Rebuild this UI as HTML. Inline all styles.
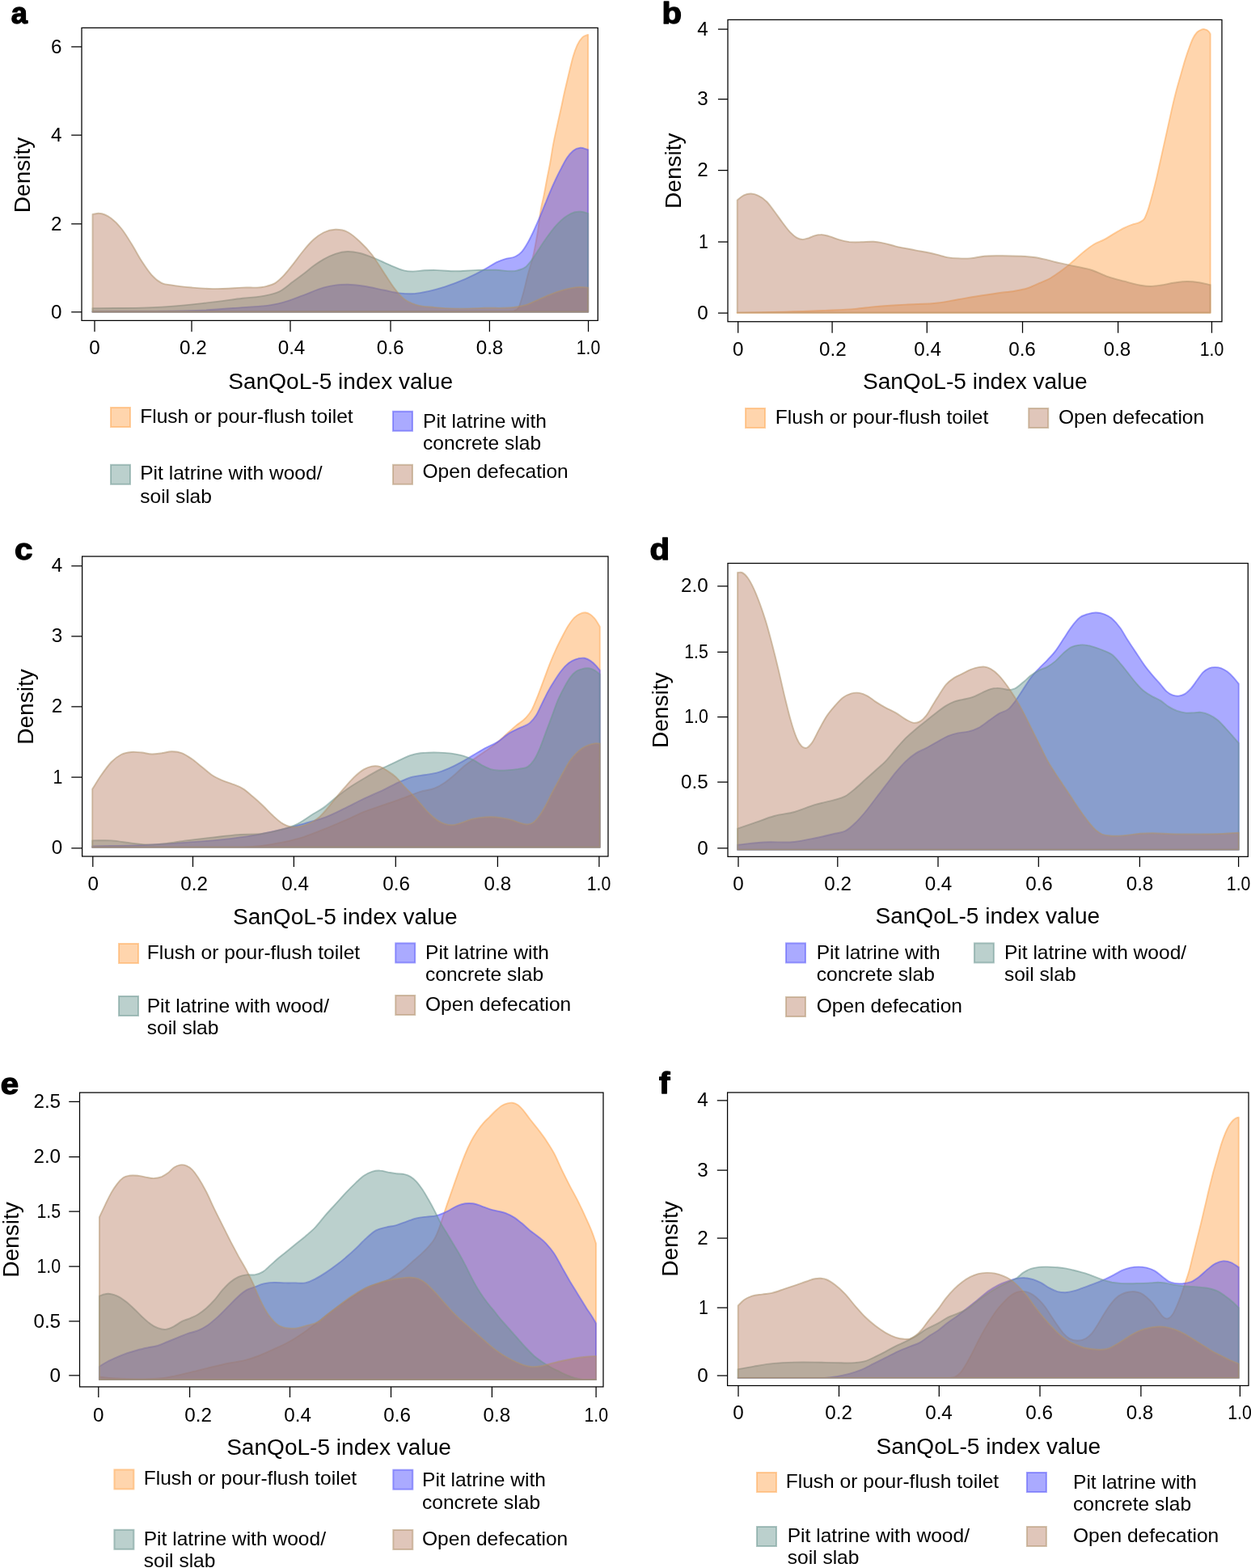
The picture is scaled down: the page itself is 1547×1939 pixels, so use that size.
<!DOCTYPE html>
<html lang="en"><head><meta charset="utf-8"><title>SanQoL-5 index value density by sanitation type</title>
<style>
html,body{margin:0;padding:0;background:#fff}
body{width:1547px;height:1939px;overflow:hidden}
svg{display:block}
text{font-family:"Liberation Sans",sans-serif;fill:#000}
.ax{stroke:#000;stroke-width:1.25;fill:none}
</style></head><body>
<svg width="1547" height="1939" viewBox="0 0 1547 1939">
<rect width="1547" height="1939" fill="#fff"/>
<g id="panel-a">
<path d="M114.5 385.7L114.5 385.1C209.7 385.1 305 385.1 400.2 385.1C466.8 385.1 533.5 385.7 600.1 385.1C611.8 385 623.5 385.7 635.2 384.6C637.2 383.3 639.3 384.2 641.4 380.1C643.1 376.8 644.7 370.8 646.4 365.1C648.5 357.9 650.6 348.1 652.7 340.1C655.2 330.4 657.7 324.5 660.2 312.5C661.8 304.6 663.5 296 665.2 285C666.3 277.5 667.5 267 668.6 260.1C669.9 252.3 671.2 248.5 672.5 242C673.8 235.6 675.1 228 676.4 221.3C677.6 214.7 678.9 209.1 680.2 201.9C681.5 194.8 682.8 185.7 684.1 178.7C685.8 169.3 687.6 162.1 689.3 154.1C691 146.1 692.7 138.8 694.5 130.8C695.7 124.9 697 118.5 698.3 112.7C700.1 105 701.8 97.9 703.5 90.8C705.2 83.7 707 75.9 708.7 70.1C710.4 64.3 712.1 59.6 713.8 55.9C716 51.1 718.2 48.3 720.3 46.2C722.6 43.8 724.9 44 727.2 42.9L727.2 385.7Z" fill="rgb(255,155,60)" fill-opacity="0.42" stroke="rgb(255,170,85)" stroke-opacity="0.55" stroke-width="1.9" stroke-linejoin="round"/>
<path d="M114.5 385.7L114.5 385.1C159.7 384.7 204.9 385.7 250.1 383.8C266.8 382.9 283.5 381.4 300.1 380.1C311.8 379.1 323.5 379.2 335.2 377.1C340.2 376.2 345.2 375.2 350.2 373.8C358.5 371.6 366.8 368.1 375.2 365.1C383.5 362 391.9 357.8 400.2 355.6C405.1 354.2 410.1 353.2 415 352.6C420 351.9 425 351.8 430 351.8C436.7 351.9 443.4 352.9 450 353.8C458.4 355 466.7 357.2 475 358.8C481.7 360.1 488.4 361.9 495.1 362.6C500.9 363.2 506.7 363.5 512.6 363.1C518.4 362.7 524.2 361.4 530.1 360.1C536.8 358.6 543.4 356.7 550.1 354.6C558.4 351.9 566.8 348.7 575.1 345.1C583.5 341.4 591.8 337.2 600.1 332.6C605.1 329.8 610.1 326.1 615.1 323.8C618.5 322.3 621.8 321.1 625.1 320.1C629.3 318.7 633.5 319.4 637.7 317C640.2 315.6 642.7 314.1 645.2 311.3C647.7 308.5 650.2 304.4 652.7 300C655.2 295.7 657.7 290.4 660.2 285C663.4 278.1 666.6 270.6 669.9 262.7C671.6 258.5 673.3 254 675.1 249.8C677.2 244.5 679.4 239.2 681.5 234.3C683.7 229.3 685.8 224.6 688 220C690.1 215.5 692.3 211.2 694.5 207.1C696.6 203 698.8 198.7 700.9 195.5C703.5 191.6 706.1 188.5 708.7 186.4C711.7 184 714.7 183.1 717.7 182.8C720.9 182.5 724.1 184.4 727.2 185.1L727.2 385.7Z" fill="rgb(53,53,255)" fill-opacity="0.42" stroke="rgb(85,85,250)" stroke-opacity="0.55" stroke-width="1.9" stroke-linejoin="round"/>
<path d="M114.5 385.7L114.5 381.3C143 380.8 171.5 381.4 200.1 379.6C216.7 378.5 233.4 376.9 250.1 375.1C266.8 373.3 283.5 370.9 300.1 368.8C310.1 367.6 320.1 367.5 330.1 365.1C335.2 363.9 340.2 363 345.2 360.6C351 357.7 356.8 352.3 362.7 348.1C366.8 345 371 342 375.2 338.8C379.3 335.6 383.5 331.9 387.7 328.8C391.9 325.8 396 322.9 400.2 320.6C405.1 317.8 410.1 315.4 415 313.8C420 312.2 425 311.2 430 311C435 310.9 440 311.9 445 313C450 314.2 455 316.1 460 318.1C465 320 470 322.4 475 324.6C479.2 326.4 483.4 328.4 487.6 330.1C491.7 331.7 495.9 333.7 500.1 334.6C503.4 335.3 506.7 335.5 510.1 335.6C515.1 335.7 520.1 334.6 525.1 334.3C530.1 334.1 535.1 334 540.1 334.1C547.6 334.2 555.1 335.3 562.6 335.3C570.9 335.4 579.3 334.3 587.6 334.1C596 333.8 604.3 333.8 612.6 333.8C621.8 333.8 631 337.1 640.2 334.3C643.5 333.3 646.8 332.9 650.2 330.1C652.7 327.9 655.2 324.6 657.7 321.3C660.2 318 662.7 313.8 665.2 310C668.5 305 671.8 299.7 675.2 295C679.3 289.2 683.5 283.4 687.7 278.8C691.9 274.2 696 270.3 700.2 267.5C703.5 265.3 706.9 263.4 710.2 262.5C713.1 261.7 716 261.5 719 261.8C721.7 262 724.5 263.1 727.2 263.8L727.2 385.7Z" fill="rgb(93,143,136)" fill-opacity="0.42" stroke="rgb(110,152,146)" stroke-opacity="0.55" stroke-width="1.9" stroke-linejoin="round"/>
<path d="M114.5 385.7L114.5 265C117.2 264.6 119.8 263.6 122.5 263.8C127.5 264 132.5 266.3 137.5 270C141.7 273.1 145.9 277.3 150 282.5C154.2 287.7 158.4 294.6 162.5 301.3C166.7 308 170.9 316.1 175 322.6C179.2 329 183.4 335.5 187.6 340.1C191.7 344.7 195.9 348 200.1 350.1C204.2 352.2 208.4 351.9 212.6 352.6C220.9 354 229.3 354.8 237.6 355.6C245.9 356.3 254.3 356.9 262.6 357.1C275.1 357.3 287.6 356.2 300.1 355.6C310.1 355.1 320.1 356.8 330.1 353.8C333.5 352.8 336.8 352.2 340.2 350.1C343.5 348 346.8 344.7 350.2 341.3C354.3 337.1 358.5 331.5 362.7 326.3C366.8 321.1 371 315 375.2 310C379.3 305 383.5 300 387.7 296.3C391.9 292.5 396 289.6 400.2 287.5C405.1 285.1 410.1 283.9 415 283.8C420 283.7 425 284.5 430 287C435 289.5 440 294.1 445 298.8C450 303.5 455 308.6 460 315C465 321.5 470 330.1 475 337.6C479.2 343.8 483.4 350.9 487.6 356.3C491.7 361.7 495.9 366.7 500.1 370.1C504.2 373.4 508.4 374.7 512.6 376.3C520.9 379.5 529.3 379.2 537.6 380.1C545.9 381 554.3 381.4 562.6 381.6C575.1 381.9 587.6 381.2 600.1 380.8C613.5 380.5 626.8 381.8 640.2 379.3C643.5 378.7 646.8 378.1 650.2 377.1C654.3 375.8 658.5 373.6 662.7 371.8C666.8 370 671 368.1 675.2 366.3C679.3 364.6 683.5 362.8 687.7 361.3C691.9 359.9 696 358.6 700.2 357.6C705.2 356.4 710.2 355.3 715.2 355.1C719.2 354.9 723.2 355.4 727.2 355.6L727.2 385.7Z" fill="rgb(181,119,91)" fill-opacity="0.42" stroke="rgb(176,148,110)" stroke-opacity="0.55" stroke-width="1.9" stroke-linejoin="round"/>
<rect class="ax" x="101" y="34.45" width="638.35" height="361.95"/>
<path class="ax" d="M88.2 57.95H101M88.2 167.2H101M88.2 276.9H101M88.2 385.9H101M117 396.4V410.3M237 396.4V410.3M359 396.4V410.3M483 396.4V410.3M605.4 396.4V410.3M727.55 396.4V410.3"/>
<text transform="translate(76.4 65.55) scale(1.01 1)" font-size="24.0" text-anchor="end">6</text>
<text transform="translate(76.4 174.8) scale(1.01 1)" font-size="24.0" text-anchor="end">4</text>
<text transform="translate(76.4 284.5) scale(1.01 1)" font-size="24.0" text-anchor="end">2</text>
<text transform="translate(76.4 393.5) scale(1.01 1)" font-size="24.0" text-anchor="end">0</text>
<text transform="translate(117 438.2) scale(1.01 1)" font-size="24.0" text-anchor="middle">0</text>
<text transform="translate(238.9 438.2) scale(1.01 1)" font-size="24.0" text-anchor="middle">0.2</text>
<text transform="translate(360.5 438.2) scale(1.01 1)" font-size="24.0" text-anchor="middle">0.4</text>
<text transform="translate(482.7 438.2) scale(1.01 1)" font-size="24.0" text-anchor="middle">0.6</text>
<text transform="translate(605.5 438.2) scale(1.01 1)" font-size="24.0" text-anchor="middle">0.8</text>
<text transform="translate(727.5 438.2) scale(0.8888 1)" font-size="24.0" text-anchor="middle">1.0</text>
<text transform="translate(37.1 216.4) rotate(-90) scale(1.04 1)" font-size="27.0" text-anchor="middle">Density</text>
<text transform="translate(421.2 481) scale(1.04 1)" font-size="27.0" text-anchor="middle">SanQoL-5 index value</text>
<text transform="translate(13.8 28.5) scale(0.98 1)" font-size="37.0" text-anchor="start" font-weight="bold" stroke="#000" stroke-width="1.3" stroke-linejoin="round">a</text>
<rect x="137" y="504" width="24" height="24" fill="rgb(255,155,60)" fill-opacity="0.42" stroke="rgb(255,170,85)" stroke-opacity="0.55" stroke-width="2"/>
<text transform="translate(173.2 522.7) scale(1.05 1)" font-size="23.4" text-anchor="start">Flush or pour-flush toilet</text>
<rect x="486" y="508.8" width="24" height="24" fill="rgb(53,53,255)" fill-opacity="0.42" stroke="rgb(85,85,250)" stroke-opacity="0.55" stroke-width="2"/>
<text transform="translate(523 528.6) scale(1.05 1)" font-size="23.4" text-anchor="start">Pit latrine with</text>
<text transform="translate(523 555.6) scale(1.05 1)" font-size="23.4" text-anchor="start">concrete slab</text>
<rect x="137" y="574.8" width="24" height="24" fill="rgb(93,143,136)" fill-opacity="0.42" stroke="rgb(110,152,146)" stroke-opacity="0.55" stroke-width="2"/>
<text transform="translate(173.2 593.2) scale(1.05 1)" font-size="23.4" text-anchor="start">Pit latrine with wood/</text>
<text transform="translate(173.2 621.5) scale(1.05 1)" font-size="23.4" text-anchor="start">soil slab</text>
<rect x="486" y="574.8" width="24" height="24" fill="rgb(181,119,91)" fill-opacity="0.42" stroke="rgb(176,148,110)" stroke-opacity="0.55" stroke-width="2"/>
<text transform="translate(522.5 591) scale(1.05 1)" font-size="23.4" text-anchor="start">Open defecation</text>
</g>
<g id="panel-b">
<path d="M911.7 386.8L911.7 386.6C931.1 386.3 950.6 386.1 970 385.6C986.7 385.2 1003.4 384.6 1020.1 383.9C1032.6 383.3 1045.1 383 1057.6 381.9C1065.9 381.1 1074.3 379.9 1082.6 379.1C1095.1 378 1107.6 377.4 1120.1 376.6C1133.4 375.8 1146.7 376.1 1160 374.5C1168.3 373.4 1176.7 371.6 1185 370.2C1193.4 368.8 1201.7 367.3 1210 366C1218.4 364.6 1226.7 363.4 1235 362.2C1241.7 361.3 1248.4 360.9 1255.1 359.7C1260.1 358.8 1265.1 358.1 1270.1 356.5C1275.1 354.9 1280.1 352.4 1285.1 350.2C1290.1 348 1295.1 346.2 1300.1 343.2C1303.4 341.2 1306.8 338.8 1310.1 336.5C1313.4 334.1 1316.8 331.7 1320.1 328.9C1323.4 326.2 1326.8 323.1 1330.1 320.2C1333.4 317.3 1336.8 314.2 1340.1 311.4C1344.3 308 1348.5 304.7 1352.6 302.2C1356.8 299.7 1361 298.6 1365.1 296.4C1369.3 294.2 1373.5 291.3 1377.6 288.9C1381.8 286.5 1386 283.9 1390.1 281.9C1393.5 280.3 1396.8 278.9 1400.2 277.7C1403.5 276.4 1406.8 276.7 1410.2 274.4C1411.8 273.3 1413.5 273 1415.2 270.2C1416.8 267.4 1418.5 262.7 1420.2 257.7C1421.8 252.7 1423.5 246.4 1425.2 240.1C1426.8 233.9 1428.5 227.2 1430.2 220.1C1431.8 213 1433.5 205.1 1435.2 197.6C1436.8 190.1 1438.5 182.6 1440.2 175.1C1441.8 167.6 1443.5 160.1 1445.2 152.6C1446.9 145.1 1448.5 137.2 1450.2 130.1C1451.9 123 1453.5 116.3 1455.2 110.1C1456.9 103.8 1458.5 98.4 1460.2 92.5C1461.9 86.7 1463.5 80.5 1465.2 75C1466.9 69.6 1468.5 64.6 1470.2 60C1471.9 55.4 1473.5 50.9 1475.2 47.5C1476.9 44.2 1478.5 41.8 1480.2 40C1481.9 38.2 1483.5 37.4 1485.2 36.8C1486.9 36.1 1488.5 35.8 1490.2 36.3C1491.9 36.7 1493.5 37.1 1495.2 39.5C1495.7 40.2 1496.2 41.2 1496.7 42L1496.7 386.8Z" fill="rgb(255,155,60)" fill-opacity="0.42" stroke="rgb(255,170,85)" stroke-opacity="0.55" stroke-width="1.9" stroke-linejoin="round"/>
<path d="M911.7 386.8L911.7 247.5C914.5 245.4 917.2 242.6 920 241.3C922.9 239.9 925.9 239.4 928.8 239.5C931.7 239.6 934.6 240.4 937.5 241.8C940.9 243.3 944.2 245.5 947.5 248.8C950.9 252 954.2 256.9 957.5 261.3C960.9 265.7 964.2 270.7 967.5 275C970.9 279.4 974.2 284.2 977.6 287.6C980.1 290.1 982.6 292.4 985.1 293.8C987.6 295.2 990.1 296 992.6 296.1C995.1 296.1 997.6 295.1 1000.1 294.3C1002.6 293.5 1005.1 292 1007.6 291.3C1010.1 290.6 1012.6 290.1 1015.1 290.1C1018.4 290 1021.7 291.2 1025.1 292.1C1029.3 293.2 1033.4 295.1 1037.6 296.3C1041.8 297.5 1045.9 298.5 1050.1 299.1C1055.1 299.7 1060.1 299.4 1065.1 299.3C1070.1 299.3 1075.1 298.5 1080.1 298.8C1083.5 299 1086.8 299.5 1090.1 300.1C1096 301.1 1101.8 303.2 1107.6 304.6C1116 306.5 1124.3 307.9 1132.7 309.6C1141 311.2 1149.3 312.6 1157.7 314.6C1162.6 315.8 1167.6 317.6 1172.5 318.4C1176.7 319.1 1180.8 319.3 1185 319.4C1190 319.7 1195 319.8 1200 319.4C1205.9 319 1211.7 317.2 1217.5 316.7C1223.4 316.1 1229.2 316.2 1235 316.2C1243.4 316.1 1251.7 316.3 1260.1 316.7C1266.7 317 1273.4 317.2 1280.1 318.2C1285.1 319 1290.1 320.3 1295.1 321.4C1300.1 322.6 1305.1 324 1310.1 325.2C1316.8 326.8 1323.4 328 1330.1 329.4C1336.8 330.9 1343.5 331.8 1350.1 334C1356.8 336.1 1363.5 339.9 1370.1 342.2C1376.8 344.5 1383.5 346 1390.1 347.7C1396.8 349.5 1403.5 351.7 1410.2 352.7C1414.3 353.4 1418.5 354 1422.7 354C1426.8 354 1431 353.3 1435.2 352.7C1441 351.9 1446.9 350.3 1452.7 349.5C1457.7 348.8 1462.7 348 1467.7 348C1472.7 347.9 1477.7 348.5 1482.7 349.2C1487.4 349.9 1492 351.2 1496.7 352.2L1496.7 386.8Z" fill="rgb(181,119,91)" fill-opacity="0.42" stroke="rgb(176,148,110)" stroke-opacity="0.55" stroke-width="1.9" stroke-linejoin="round"/>
<rect class="ax" x="900" y="24.45" width="611" height="373.3"/>
<path class="ax" d="M887.95 36H900M887.95 122.6H900M887.95 210.5H900M887.95 299.2H900M887.95 387.2H900M912.7 397.75V411.85M1029.1 397.75V411.85M1146.3 397.75V411.85M1264.5 397.75V411.85M1382.6 397.75V411.85M1498.5 397.75V411.85"/>
<text transform="translate(875.8 43.6) scale(1.01 1)" font-size="24.0" text-anchor="end">4</text>
<text transform="translate(875.8 130.2) scale(1.01 1)" font-size="24.0" text-anchor="end">3</text>
<text transform="translate(875.8 218.1) scale(1.01 1)" font-size="24.0" text-anchor="end">2</text>
<text transform="translate(875.8 306.8) scale(0.8888 1)" font-size="24.0" text-anchor="end">1</text>
<text transform="translate(875.8 394.8) scale(1.01 1)" font-size="24.0" text-anchor="end">0</text>
<text transform="translate(912.8 440.3) scale(1.01 1)" font-size="24.0" text-anchor="middle">0</text>
<text transform="translate(1029.8 440.3) scale(1.01 1)" font-size="24.0" text-anchor="middle">0.2</text>
<text transform="translate(1147.2 440.3) scale(1.01 1)" font-size="24.0" text-anchor="middle">0.4</text>
<text transform="translate(1264 440.3) scale(1.01 1)" font-size="24.0" text-anchor="middle">0.6</text>
<text transform="translate(1381.5 440.3) scale(1.01 1)" font-size="24.0" text-anchor="middle">0.8</text>
<text transform="translate(1498.5 440.3) scale(0.8888 1)" font-size="24.0" text-anchor="middle">1.0</text>
<text transform="translate(842.2 211.2) rotate(-90) scale(1.04 1)" font-size="27.0" text-anchor="middle">Density</text>
<text transform="translate(1205.8 481) scale(1.04 1)" font-size="27.0" text-anchor="middle">SanQoL-5 index value</text>
<text transform="translate(818.4 28.9) scale(1.0878 1)" font-size="37.0" text-anchor="start" font-weight="bold" stroke="#000" stroke-width="1.3" stroke-linejoin="round">b</text>
<rect x="922" y="505" width="24" height="24" fill="rgb(255,155,60)" fill-opacity="0.42" stroke="rgb(255,170,85)" stroke-opacity="0.55" stroke-width="2"/>
<text transform="translate(958.8 523.8) scale(1.05 1)" font-size="23.4" text-anchor="start">Flush or pour-flush toilet</text>
<rect x="1272.2" y="505" width="24" height="24" fill="rgb(181,119,91)" fill-opacity="0.42" stroke="rgb(176,148,110)" stroke-opacity="0.55" stroke-width="2"/>
<text transform="translate(1308.9 523.8) scale(1.05 1)" font-size="23.4" text-anchor="start">Open defecation</text>
</g>
<g id="panel-c">
<path d="M114.2 1047.7L114.2 1047.6C176.2 1047.6 238.2 1047.7 300.1 1047.6C308.5 1047 316.8 1046.6 325.1 1045.6C333.5 1044.6 341.8 1043.1 350.2 1041.4C358.5 1039.6 366.8 1037.7 375.2 1035.1C383.5 1032.5 391.7 1029 400 1025.7C408.3 1022.4 416.7 1018.8 425 1015.2C433.4 1011.6 441.7 1007.3 450 1003.9C458.4 1000.6 466.7 998.1 475 995.2C483.4 992.3 491.7 989.5 500.1 986.4C506.7 984 513.4 980.9 520.1 978.9C525.9 977.1 531.8 977.2 537.6 974.7C541.8 972.9 545.9 970.5 550.1 967.7C554.3 964.8 558.4 961.2 562.6 957.7C566.8 954.1 570.9 949.7 575.1 946.4C579.3 943.1 583.5 940.6 587.6 937.6C591.8 934.7 596 931.8 600.1 928.9C604.3 926 608.5 923.5 612.6 920.1C616.8 916.8 621 912.6 625.1 908.9C629.3 905.1 633.5 901.2 637.7 897.6C641.8 894.1 646 892.3 650.2 887.6C652.7 884.8 655.2 882.2 657.7 877.6C660.2 873 662.7 866.3 665.2 860.1C667.7 853.8 670.2 846.7 672.7 840.1C675.2 833.4 677.7 826.3 680.2 820.1C682.7 813.8 685.2 808 687.7 802.6C690.2 797.1 692.7 792.3 695.2 787.5C697.7 782.7 700.2 777.7 702.7 773.8C705.2 769.8 707.7 766.3 710.2 763.8C712.7 761.3 715.2 759.8 717.7 758.8C719.8 757.9 721.9 757.3 724 757.5C726 757.7 728.1 758.6 730.2 760C732.3 761.5 734.4 763.5 736.5 766.3C738.2 768.7 740 772.1 741.8 775L741.8 1047.7Z" fill="rgb(255,155,60)" fill-opacity="0.42" stroke="rgb(255,170,85)" stroke-opacity="0.55" stroke-width="1.9" stroke-linejoin="round"/>
<path d="M114.2 1047.7L114.2 1046.4C134.5 1045.9 154.8 1046 175 1045.1C191.7 1044.4 208.4 1043.3 225.1 1042.1C241.8 1040.9 258.4 1039.9 275.1 1038.1C287.6 1036.7 300.1 1035.3 312.6 1033.1C321 1031.7 329.3 1029.9 337.7 1028.1C346 1026.3 354.3 1024.3 362.7 1022.1C371 1019.9 379.3 1017.5 387.7 1015.1C391.8 1013.9 395.9 1012.9 400 1011.4C408.3 1008.5 416.7 1004.1 425 1000.2C433.4 996.2 441.7 991.6 450 987.7C458.4 983.7 466.7 980.4 475 976.4C481.7 973.2 488.4 969.3 495.1 966.4C500.1 964.2 505.1 962 510.1 960.7C515.1 959.3 520.1 959 525.1 958.2C530.1 957.3 535.1 957 540.1 955.7C545.1 954.3 550.1 952.3 555.1 950.1C560.1 948 565.1 945.4 570.1 942.6C575.1 939.9 580.1 936.8 585.1 933.9C590.1 931 595.1 927.8 600.1 925.1C605.1 922.4 610.1 920.8 615.1 917.6C620.1 914.5 625.1 909.4 630.1 906.4C634.3 903.8 638.5 902.2 642.7 900.1C646.8 898 651 897.7 655.2 893.9C657.7 891.6 660.2 889.1 662.7 885.1C665.2 881.1 667.7 875.1 670.2 870.1C672.7 865.1 675.2 859.7 677.7 855.1C680.2 850.5 682.7 846.5 685.2 842.6C687.7 838.6 690.2 834.7 692.7 831.3C695.2 828 697.7 824.9 700.2 822.6C702.7 820.2 705.2 818.4 707.7 817.1C710.2 815.7 712.7 814.9 715.2 814.3C717.7 813.8 720.2 813.4 722.7 813.8C725.2 814.3 727.7 815.4 730.2 817.1C732.3 818.5 734.4 820.4 736.5 822.6C738.2 824.4 740 826.7 741.8 828.8L741.8 1047.7Z" fill="rgb(53,53,255)" fill-opacity="0.42" stroke="rgb(85,85,250)" stroke-opacity="0.55" stroke-width="1.9" stroke-linejoin="round"/>
<path d="M114.2 1047.7L114.2 1039.4C122 1039.4 129.7 1038.9 137.5 1039.4C145.9 1039.9 154.2 1041.7 162.5 1042.6C169.2 1043.3 175.9 1044.2 182.6 1044.4C190.1 1044.5 197.6 1043.9 205.1 1043.1C213.4 1042.3 221.7 1040.5 230.1 1039.4C240.9 1037.9 251.8 1036.8 262.6 1035.6C273.4 1034.4 284.3 1032.9 295.1 1032.1C305.1 1031.4 315.1 1032.3 325.1 1030.8C333.5 1029.6 341.8 1027.6 350.2 1025.1C355.2 1023.6 360.2 1022.3 365.2 1020.1C372.7 1016.8 380.2 1010.9 387.7 1006.3C391.8 1003.8 395.9 1001.8 400 998.9C405 995.4 410 990.4 415 986.4C420 982.5 425 978.6 430 975.2C436.7 970.5 443.4 966.6 450 962.7C456.7 958.7 463.4 954.8 470 951.4C475.9 948.4 481.7 945.9 487.6 943.1C491.7 941.2 495.9 938.9 500.1 937.1C504.2 935.4 508.4 933.7 512.6 932.6C516.7 931.6 520.9 931.3 525.1 930.9C530.9 930.4 536.8 930.5 542.6 930.6C547.6 930.8 552.6 931 557.6 931.6C562.6 932.3 567.6 933.1 572.6 934.6C576.8 935.9 581 937.6 585.1 939.6C589.3 941.7 593.5 945.1 597.6 947.1C601 948.8 604.3 950.5 607.6 951.4C611 952.3 614.3 952.5 617.6 952.7C621.8 952.9 626 952.5 630.1 952.1C634.3 951.8 638.5 951.5 642.7 950.6C646 950 649.3 950.5 652.7 948.1C655.2 946.4 657.7 944 660.2 940.1C662.7 936.3 665.2 931 667.7 925.1C670.2 919.3 672.7 911.8 675.2 905.1C677.7 898.4 680.2 891.8 682.7 885.1C685.2 878.4 687.7 870.9 690.2 865.1C692.7 859.3 695.2 854.7 697.7 850.1C700.2 845.5 702.7 840.9 705.2 837.6C707.7 834.2 710.2 831.8 712.7 830.1C715.2 828.3 717.7 827.7 720.2 827.1C722.7 826.4 725.2 826 727.7 826.3C730.2 826.6 732.7 827.4 735.2 828.8C737.4 830.1 739.6 832.2 741.8 833.8L741.8 1047.7Z" fill="rgb(93,143,136)" fill-opacity="0.42" stroke="rgb(110,152,146)" stroke-opacity="0.55" stroke-width="1.9" stroke-linejoin="round"/>
<path d="M114.2 1047.7L114.2 975.8C117.8 970.1 121.4 964 125 958.8C129.2 952.8 133.4 946.8 137.5 942.5C141.7 938.2 145.9 935.1 150 933C154.2 930.9 158.4 930.4 162.5 930C166.7 929.6 170.9 930.1 175 930.5C179.2 930.9 183.4 932.4 187.6 932.5C191.7 932.7 195.9 931.8 200.1 931.3C204.2 930.7 208.4 929.3 212.6 929.3C216.7 929.3 220.9 929.7 225.1 931.3C229.3 932.9 233.4 935.9 237.6 938.8C241.8 941.7 245.9 945.5 250.1 948.8C254.3 952.1 258.4 956.1 262.6 958.8C266.8 961.5 270.9 963.3 275.1 965.1C279.3 966.8 283.5 967.9 287.6 969.6C291.8 971.2 296 972.5 300.1 975.1C304.3 977.6 308.5 981.5 312.6 985.1C316.8 988.6 321 992.4 325.1 996.3C329.3 1000.3 333.5 1005.1 337.7 1008.8C341.8 1012.6 346 1016.5 350.2 1018.8C353.5 1020.7 356.8 1022.1 360.2 1022.6C363.5 1023.1 366.8 1022.7 370.2 1022.1C374.3 1021.4 378.5 1020.1 382.7 1018.1C386.9 1016.1 391 1013.9 395.2 1010.1C396.8 1008.6 398.4 1006.9 400 1005.2C404.2 1000.7 408.3 995.2 412.5 990.2C416.7 985.2 420.8 980 425 975.2C429.2 970.4 433.4 965.4 437.5 961.4C441.7 957.4 445.9 953.8 450 951.4C453.4 949.5 456.7 948.2 460 947.6C463.4 947.1 466.7 947.1 470 948.1C473.4 949.2 476.7 951.7 480.1 953.9C483.4 956.1 486.7 958.3 490.1 961.4C493.4 964.5 496.7 969.1 500.1 972.7C503.4 976.2 506.7 979.1 510.1 982.7C513.4 986.2 516.7 990.2 520.1 993.9C523.4 997.7 526.7 1001.8 530.1 1005.2C533.4 1008.5 536.8 1011.6 540.1 1013.9C543.4 1016.2 546.8 1017.9 550.1 1018.9C553.4 1020 556.8 1020.4 560.1 1020.2C563.4 1020 566.8 1018.7 570.1 1017.7C574.3 1016.4 578.4 1014.3 582.6 1013.2C586.8 1012.1 591 1011.4 595.1 1010.9C599.3 1010.4 603.5 1010.1 607.6 1010.2C611.8 1010.3 616 1010.8 620.1 1011.4C624.3 1012.1 628.5 1012.8 632.7 1013.9C636.8 1015.1 641 1017.2 645.2 1018.2C647.7 1018.8 650.2 1019.7 652.7 1019.4C655.2 1019.2 657.7 1018.4 660.2 1016.4C662.7 1014.5 665.2 1011.2 667.7 1007.7C670.2 1004.1 672.7 999.8 675.2 995.2C677.7 990.6 680.2 985 682.7 980.2C685.2 975.4 687.7 971 690.2 966.4C692.7 961.8 695.2 957 697.7 952.7C700.2 948.3 702.7 943.7 705.2 940.1C707.7 936.6 710.2 933.9 712.7 931.4C715.2 928.9 717.7 926.8 720.2 925.1C722.7 923.5 725.2 922.3 727.7 921.4C730.2 920.4 732.7 919.7 735.2 919.4C737.4 919.1 739.6 919.4 741.8 919.4L741.8 1047.7Z" fill="rgb(181,119,91)" fill-opacity="0.42" stroke="rgb(176,148,110)" stroke-opacity="0.55" stroke-width="1.9" stroke-linejoin="round"/>
<rect class="ax" x="101.6" y="688.05" width="650.4" height="370.95"/>
<path class="ax" d="M88.3 699.75H101.6M88.3 786.75H101.6M88.3 873.75H101.6M88.3 961.1H101.6M88.3 1048.8H101.6M114.8 1059V1071.9M238.5 1059V1071.9M363.4 1059V1071.9M489.3 1059V1071.9M615.4 1059V1071.9M740.9 1059V1071.9"/>
<text transform="translate(77.3 707.35) scale(1.01 1)" font-size="24.0" text-anchor="end">4</text>
<text transform="translate(77.3 794.35) scale(1.01 1)" font-size="24.0" text-anchor="end">3</text>
<text transform="translate(77.3 881.35) scale(1.01 1)" font-size="24.0" text-anchor="end">2</text>
<text transform="translate(77.3 968.7) scale(0.8888 1)" font-size="24.0" text-anchor="end">1</text>
<text transform="translate(77.3 1056.4) scale(1.01 1)" font-size="24.0" text-anchor="end">0</text>
<text transform="translate(115.2 1101.3) scale(1.01 1)" font-size="24.0" text-anchor="middle">0</text>
<text transform="translate(240.1 1101.3) scale(1.01 1)" font-size="24.0" text-anchor="middle">0.2</text>
<text transform="translate(365.2 1101.3) scale(1.01 1)" font-size="24.0" text-anchor="middle">0.4</text>
<text transform="translate(490.2 1101.3) scale(1.01 1)" font-size="24.0" text-anchor="middle">0.6</text>
<text transform="translate(615.4 1101.3) scale(1.01 1)" font-size="24.0" text-anchor="middle">0.8</text>
<text transform="translate(740.5 1101.3) scale(0.8888 1)" font-size="24.0" text-anchor="middle">1.0</text>
<text transform="translate(41 874) rotate(-90) scale(1.04 1)" font-size="27.0" text-anchor="middle">Density</text>
<text transform="translate(426.8 1143.4) scale(1.04 1)" font-size="27.0" text-anchor="middle">SanQoL-5 index value</text>
<text transform="translate(17.9 692.3) scale(1.0878 1)" font-size="37.0" text-anchor="start" font-weight="bold" stroke="#000" stroke-width="1.3" stroke-linejoin="round">c</text>
<rect x="147" y="1167" width="24" height="24" fill="rgb(255,155,60)" fill-opacity="0.42" stroke="rgb(255,170,85)" stroke-opacity="0.55" stroke-width="2"/>
<text transform="translate(181.7 1185.8) scale(1.05 1)" font-size="23.4" text-anchor="start">Flush or pour-flush toilet</text>
<rect x="489.2" y="1166.4" width="24" height="24" fill="rgb(53,53,255)" fill-opacity="0.42" stroke="rgb(85,85,250)" stroke-opacity="0.55" stroke-width="2"/>
<text transform="translate(526 1185.8) scale(1.05 1)" font-size="23.4" text-anchor="start">Pit latrine with</text>
<text transform="translate(526 1212.6) scale(1.05 1)" font-size="23.4" text-anchor="start">concrete slab</text>
<rect x="147" y="1232" width="24" height="24" fill="rgb(93,143,136)" fill-opacity="0.42" stroke="rgb(110,152,146)" stroke-opacity="0.55" stroke-width="2"/>
<text transform="translate(181.7 1251.6) scale(1.05 1)" font-size="23.4" text-anchor="start">Pit latrine with wood/</text>
<text transform="translate(181.7 1278.8) scale(1.05 1)" font-size="23.4" text-anchor="start">soil slab</text>
<rect x="489.2" y="1231" width="24" height="24" fill="rgb(181,119,91)" fill-opacity="0.42" stroke="rgb(176,148,110)" stroke-opacity="0.55" stroke-width="2"/>
<text transform="translate(526 1249.8) scale(1.05 1)" font-size="23.4" text-anchor="start">Open defecation</text>
</g>
<g id="panel-d">
<path d="M912.1 1050.8L912.1 1044.7C923.1 1043.6 934.1 1042.1 945 1041.5C957.5 1040.7 970 1042.4 982.6 1041C990.9 1040 999.2 1038.2 1007.6 1036.5C1015.9 1034.8 1024.3 1032.7 1032.6 1030.7C1036.8 1029.7 1040.9 1029.9 1045.1 1027.7C1049.3 1025.6 1053.4 1021.7 1057.6 1017.7C1061.8 1013.8 1065.9 1009 1070.1 1004C1074.3 998.9 1078.5 993.1 1082.6 987.7C1086.8 982.3 1091 976.9 1095.1 971.4C1099.3 966 1103.5 960.2 1107.6 955.2C1111.8 950.2 1116 945.4 1120.1 941.4C1124.3 937.5 1128.5 934.1 1132.7 931.4C1136.8 928.7 1141 927.4 1145.2 925.2C1149.3 922.9 1153.5 920.4 1157.7 918.1C1162.6 915.4 1167.6 912.2 1172.5 910.1C1176.7 908.4 1180.8 907.3 1185 906.4C1189.2 905.5 1193.4 905.7 1197.5 904.6C1201.7 903.6 1205.9 902.3 1210 900.1C1214.2 897.9 1218.4 894.3 1222.5 891.4C1226.7 888.5 1230.9 885.1 1235 882.6C1239.2 880.1 1243.4 880.2 1247.6 876.4C1250.1 874.1 1252.6 870.9 1255.1 867.6C1258.4 863.2 1261.7 857.6 1265.1 852.6C1268.4 847.6 1271.7 842 1275.1 837.6C1278.4 833.2 1281.7 829.9 1285.1 826.3C1288.4 822.8 1291.8 819.9 1295.1 816.3C1298.4 812.8 1301.8 809.5 1305.1 805.1C1308.4 800.7 1311.8 795.1 1315.1 790.1C1318.4 785.1 1321.8 779.4 1325.1 775.1C1328.4 770.7 1331.8 766.4 1335.1 763.8C1338.4 761.2 1341.8 760.3 1345.1 759.3C1348.5 758.3 1351.8 757.5 1355.1 757.5C1358.5 757.5 1361.8 758 1365.1 759.3C1368.5 760.5 1371.8 762.2 1375.1 765C1378.5 767.9 1381.8 771.7 1385.1 776.3C1388.5 780.9 1391.8 787.4 1395.2 792.6C1398.5 797.8 1401.8 802.6 1405.2 807.6C1408.5 812.6 1411.8 818 1415.2 822.6C1418.5 827.2 1421.8 831.1 1425.2 835.1C1428.5 839.1 1431.8 842.5 1435.2 846.4C1437.7 849.2 1440.2 852.9 1442.7 855.1C1445.2 857.3 1447.7 858.7 1450.2 859.6C1452.7 860.5 1455.2 860.9 1457.7 860.6C1460.2 860.4 1462.7 859.7 1465.2 858.1C1467.7 856.6 1470.2 854.1 1472.7 851.4C1475.2 848.6 1477.7 844.7 1480.2 841.3C1482.7 838 1485.2 833.8 1487.7 831.3C1490.2 828.8 1492.7 827.4 1495.2 826.3C1497.7 825.3 1500.2 825.1 1502.7 825.1C1505.2 825.1 1507.7 825.4 1510.2 826.3C1512.7 827.3 1515.2 828.7 1517.7 830.6C1520.2 832.5 1522.7 834.9 1525.2 837.6C1527.4 840 1529.6 842.9 1531.8 845.6L1531.8 1050.8Z" fill="rgb(53,53,255)" fill-opacity="0.42" stroke="rgb(85,85,250)" stroke-opacity="0.55" stroke-width="1.9" stroke-linejoin="round"/>
<path d="M912.1 1050.8L912.1 1024.7C918.9 1022.4 925.7 1020.1 932.5 1017.7C940.9 1014.8 949.2 1011.2 957.5 1009C965.9 1006.7 974.2 1006.2 982.6 1004C990.9 1001.7 999.2 997.7 1007.6 995.2C1015.9 992.7 1024.3 991.5 1032.6 988.9C1036.8 987.7 1040.9 987 1045.1 984.7C1049.3 982.4 1053.4 978.6 1057.6 975.2C1061.8 971.7 1065.9 967.7 1070.1 963.9C1074.3 960.2 1078.5 956.4 1082.6 952.7C1086.8 948.9 1091 945.8 1095.1 941.4C1099.3 937 1103.5 931.2 1107.6 926.4C1111.8 921.6 1116 916.8 1120.1 912.6C1124.3 908.5 1128.5 904.9 1132.7 901.4C1136.8 897.8 1141 894.7 1145.2 891.4C1149.3 888 1153.5 884.5 1157.7 881.4C1161.8 878.3 1165.9 875.1 1170 872.6C1173.3 870.6 1176.7 868.9 1180 867.6C1183.3 866.4 1186.7 865.9 1190 865.1C1194.2 864.1 1198.4 863.6 1202.5 862.1C1206.7 860.7 1210.9 858.2 1215 856.4C1218.4 854.9 1221.7 853 1225 852.1C1227.5 851.4 1230 850.9 1232.5 850.9C1235 850.8 1237.6 851.2 1240.1 851.6C1242.6 852 1245.1 853.1 1247.6 853.1C1250.1 853.1 1252.6 852.5 1255.1 851.4C1258.4 849.8 1261.7 846.6 1265.1 843.8C1268.4 841.1 1271.7 837.6 1275.1 835.1C1278.4 832.6 1281.7 830.6 1285.1 828.8C1288.4 827.1 1291.8 826.5 1295.1 824.6C1298.4 822.7 1301.8 820.4 1305.1 817.6C1308.4 814.7 1311.8 810.5 1315.1 807.6C1318.4 804.7 1321.8 801.7 1325.1 800.1C1328.4 798.4 1331.8 797.9 1335.1 797.6C1338.4 797.2 1341.8 797.5 1345.1 798.1C1348.5 798.6 1351.8 799.7 1355.1 800.8C1358.5 801.9 1361.8 803.1 1365.1 804.6C1368.5 806 1371.8 807 1375.1 809.6C1378.5 812.2 1381.8 816.2 1385.1 820.1C1388.5 823.9 1391.8 828.4 1395.2 832.6C1398.5 836.8 1401.8 841.3 1405.2 845.1C1408.5 848.9 1411.8 852.4 1415.2 855.1C1418.5 857.8 1421.8 859.5 1425.2 861.4C1428.5 863.2 1431.8 864.3 1435.2 866.4C1438.5 868.4 1441.8 871.8 1445.2 873.9C1448.5 876 1451.9 877.6 1455.2 878.9C1458.5 880.1 1461.9 881 1465.2 881.4C1468.5 881.8 1471.9 881.5 1475.2 881.4C1478.5 881.3 1481.9 880.5 1485.2 880.9C1488.5 881.3 1491.9 882.3 1495.2 883.9C1498.6 885.4 1501.9 887.4 1505.2 890.1C1508.6 892.8 1511.9 896.6 1515.2 900.1C1518.6 903.7 1521.9 907.6 1525.2 911.4C1527.4 913.9 1529.6 916.4 1531.8 918.9L1531.8 1050.8Z" fill="rgb(93,143,136)" fill-opacity="0.42" stroke="rgb(110,152,146)" stroke-opacity="0.55" stroke-width="1.9" stroke-linejoin="round"/>
<path d="M912.1 1050.8L912.1 708C913.9 708 915.7 707.3 917.5 708C920 709 922.5 711.6 925 715C927.5 718.5 930 723.4 932.5 728.8C935 734.2 937.5 740.7 940 747.5C942.5 754.4 945 761.7 947.5 770.1C950 778.4 952.5 788 955 797.6C957.5 807.2 960 817.2 962.5 827.6C965 838 967.5 849.7 970 860.1C972.6 870.5 975.1 881.4 977.6 890.1C980.1 898.9 982.6 907 985.1 912.6C987.1 917.3 989.2 920.6 991.3 922.7C993.4 924.7 995.5 925.3 997.6 924.7C999.7 924 1001.7 921.6 1003.8 918.9C1006.7 915.1 1009.7 907.9 1012.6 902.6C1015.9 896.6 1019.2 890.1 1022.6 885.1C1025.9 880.1 1029.3 876.4 1032.6 872.6C1035.9 868.9 1039.3 865.1 1042.6 862.6C1045.9 860.1 1049.3 858.6 1052.6 857.6C1055.9 856.6 1059.3 856.4 1062.6 856.9C1065.9 857.4 1069.3 858.8 1072.6 860.6C1076 862.4 1079.3 865.4 1082.6 867.6C1086.8 870.3 1091 872.8 1095.1 875.1C1099.3 877.4 1103.5 879 1107.6 881.4C1111.8 883.8 1116 887.4 1120.1 889.6C1123.5 891.4 1126.8 893.7 1130.2 893.9C1132.7 894 1135.2 893.6 1137.7 892.1C1140.2 890.7 1142.7 888.2 1145.2 885.1C1148.5 881 1151.8 874.1 1155.2 868.9C1156.8 866.3 1158.4 863.8 1160 861.4C1163.3 856.2 1166.7 850.2 1170 846.4C1173.3 842.5 1176.7 840.3 1180 838.1C1183.3 835.9 1186.7 834.8 1190 833.1C1193.4 831.4 1196.7 829.4 1200 828.1C1203.4 826.8 1206.7 825.6 1210 825.1C1212.5 824.7 1215 824.3 1217.5 824.6C1220 824.9 1222.5 825.8 1225 827.1C1228.4 828.9 1231.7 831.7 1235 835.1C1238.4 838.5 1241.7 843 1245.1 847.6C1248.4 852.2 1251.7 857.2 1255.1 862.6C1258.4 868 1261.7 873.9 1265.1 880.1C1268.4 886.4 1271.7 893.5 1275.1 900.1C1278.4 906.8 1281.7 913.5 1285.1 920.1C1288.4 926.8 1291.8 934.1 1295.1 940.2C1298.4 946.2 1301.8 951.2 1305.1 956.4C1308.4 961.6 1311.8 966.4 1315.1 971.4C1318.4 976.4 1321.8 981.4 1325.1 986.4C1328.4 991.4 1331.8 996.7 1335.1 1001.5C1338.4 1006.2 1341.8 1011 1345.1 1015.2C1348.5 1019.4 1351.8 1023.6 1355.1 1026.5C1357.6 1028.6 1360.1 1030.3 1362.6 1031.5C1366 1033 1369.3 1033.1 1372.6 1033.5C1378.5 1034.2 1384.3 1033.6 1390.1 1033.2C1396.8 1032.8 1403.5 1031.2 1410.2 1030.7C1415.2 1030.4 1420.2 1030.2 1425.2 1030.2C1432.7 1030.2 1440.2 1031 1447.7 1031.2C1460.2 1031.6 1472.7 1031.6 1485.2 1031.5C1493.5 1031.4 1501.9 1031.3 1510.2 1031C1517.4 1030.7 1524.6 1030.1 1531.8 1029.7L1531.8 1050.8Z" fill="rgb(181,119,91)" fill-opacity="0.42" stroke="rgb(176,148,110)" stroke-opacity="0.55" stroke-width="1.9" stroke-linejoin="round"/>
<rect class="ax" x="900" y="696.55" width="643.3" height="362.8"/>
<path class="ax" d="M887.2 724.8H900M887.2 806.3H900M887.2 886.6H900M887.2 967H900M887.2 1048.9H900M913 1059.35V1072.1M1035.8 1059.35V1072.1M1160 1059.35V1072.1M1284.3 1059.35V1072.1M1409.4 1059.35V1072.1M1531.6 1059.35V1072.1"/>
<text transform="translate(875.8 732.4) scale(1.01 1)" font-size="24.0" text-anchor="end">2.0</text>
<text transform="translate(875.8 813.9) scale(0.8888 1)" font-size="24.0" text-anchor="end">1.5</text>
<text transform="translate(875.8 894.2) scale(0.8888 1)" font-size="24.0" text-anchor="end">1.0</text>
<text transform="translate(875.8 974.6) scale(1.01 1)" font-size="24.0" text-anchor="end">0.5</text>
<text transform="translate(875.8 1056.5) scale(1.01 1)" font-size="24.0" text-anchor="end">0</text>
<text transform="translate(913 1101.3) scale(1.01 1)" font-size="24.0" text-anchor="middle">0</text>
<text transform="translate(1036.2 1101.3) scale(1.01 1)" font-size="24.0" text-anchor="middle">0.2</text>
<text transform="translate(1160.5 1101.3) scale(1.01 1)" font-size="24.0" text-anchor="middle">0.4</text>
<text transform="translate(1285 1101.3) scale(1.01 1)" font-size="24.0" text-anchor="middle">0.6</text>
<text transform="translate(1409.5 1101.3) scale(1.01 1)" font-size="24.0" text-anchor="middle">0.8</text>
<text transform="translate(1531.6 1101.3) scale(0.8888 1)" font-size="24.0" text-anchor="middle">1.0</text>
<text transform="translate(826 878.3) rotate(-90) scale(1.04 1)" font-size="27.0" text-anchor="middle">Density</text>
<text transform="translate(1221.3 1141.7) scale(1.04 1)" font-size="27.0" text-anchor="middle">SanQoL-5 index value</text>
<text transform="translate(803.4 692.3) scale(1.0878 1)" font-size="37.0" text-anchor="start" font-weight="bold" stroke="#000" stroke-width="1.3" stroke-linejoin="round">d</text>
<rect x="972" y="1166.4" width="24" height="24" fill="rgb(53,53,255)" fill-opacity="0.42" stroke="rgb(85,85,250)" stroke-opacity="0.55" stroke-width="2"/>
<text transform="translate(1009.7 1185.8) scale(1.05 1)" font-size="23.4" text-anchor="start">Pit latrine with</text>
<text transform="translate(1009.7 1213.2) scale(1.05 1)" font-size="23.4" text-anchor="start">concrete slab</text>
<rect x="1204.9" y="1166.4" width="24" height="24" fill="rgb(93,143,136)" fill-opacity="0.42" stroke="rgb(110,152,146)" stroke-opacity="0.55" stroke-width="2"/>
<text transform="translate(1241.9 1185.8) scale(1.05 1)" font-size="23.4" text-anchor="start">Pit latrine with wood/</text>
<text transform="translate(1241.9 1213.2) scale(1.05 1)" font-size="23.4" text-anchor="start">soil slab</text>
<rect x="972" y="1233" width="24" height="24" fill="rgb(181,119,91)" fill-opacity="0.42" stroke="rgb(176,148,110)" stroke-opacity="0.55" stroke-width="2"/>
<text transform="translate(1009.7 1251.6) scale(1.05 1)" font-size="23.4" text-anchor="start">Open defecation</text>
</g>
<g id="panel-e">
<path d="M122.9 1706L122.9 1702.7C130.3 1703.3 137.7 1704.1 145 1704.5C157.5 1705.2 170 1705.7 182.6 1705.2C190.9 1704.9 199.2 1704.5 207.6 1703.2C215.9 1702 224.3 1699.7 232.6 1697.7C240.9 1695.8 249.3 1693.5 257.6 1691.5C265.9 1689.5 274.3 1687.4 282.6 1685.7C289.3 1684.4 296 1683.9 302.6 1682.2C308.5 1680.7 314.3 1678.7 320.1 1676.5C326.8 1673.9 333.5 1670.8 340.2 1667.7C346.8 1664.6 353.5 1661.6 360.2 1657.7C366.8 1653.9 373.4 1649.4 380 1644.7C385 1641.1 390 1637 395 1633.2C401.7 1628 408.4 1622.6 415 1617.7C421.7 1612.8 428.4 1608.3 435 1603.9C441.7 1599.5 448.4 1594.5 455.1 1591.4C460.1 1589.1 465.1 1588.2 470.1 1586.4C473.4 1585.2 476.7 1584.3 480.1 1582.7C483.4 1581 486.7 1578.7 490.1 1576.4C493.4 1574.1 496.8 1571.6 500.1 1568.9C503.4 1566.2 506.8 1563.1 510.1 1560.1C513.4 1557.2 516.8 1554.5 520.1 1551.4C523.4 1548.3 526.8 1545.3 530.1 1541.4C532.6 1538.4 535.1 1536.1 537.6 1531.4C539.3 1528.2 540.9 1524.5 542.6 1520.1C544.3 1515.7 546 1510.1 547.6 1505.1C549.3 1500.1 551 1495 552.6 1490.1C555.1 1482.8 557.6 1475.9 560.1 1468.8C562.6 1461.7 565.1 1454.4 567.6 1447.6C570.1 1440.7 572.6 1433.6 575.1 1427.6C577.6 1421.5 580.1 1416.1 582.6 1411.3C585.1 1406.5 587.6 1402.5 590.1 1398.8C592.6 1395 595.1 1391.7 597.7 1388.8C600.2 1385.9 602.7 1383.8 605.2 1381.3C607.7 1378.8 610.2 1376.1 612.7 1373.8C615.2 1371.5 617.7 1369.1 620.2 1367.5C622.7 1365.9 625.2 1364.9 627.7 1364.3C629.8 1363.8 631.8 1363.4 633.9 1363.8C636 1364.1 638.1 1364.9 640.2 1366.3C642.7 1367.9 645.2 1370.9 647.7 1373.8C650.2 1376.7 652.7 1380.5 655.2 1383.8C658.5 1388.1 661.9 1391.9 665.2 1396.3C668.5 1400.7 671.9 1405 675.2 1410C678.5 1415 681.9 1420 685.2 1426.3C688.5 1432.6 691.9 1440.7 695.2 1447.6C698.5 1454.4 701.9 1461.1 705.2 1467.6C708.6 1474 711.9 1479.7 715.2 1486.3C718.6 1493 721.9 1500.1 725.2 1507.6C727.7 1513.2 730.2 1518.3 732.7 1525.1C734.2 1529 735.6 1533.5 737 1537.6L737 1706Z" fill="rgb(255,155,60)" fill-opacity="0.42" stroke="rgb(255,170,85)" stroke-opacity="0.55" stroke-width="1.9" stroke-linejoin="round"/>
<path d="M122.9 1706L122.9 1689.7C126.1 1687.8 129.3 1685.7 132.5 1684C136.7 1681.7 140.9 1680 145 1678.2C149.2 1676.4 153.4 1674.7 157.5 1673.2C161.7 1671.8 165.9 1670.6 170 1669.5C174.2 1668.3 178.4 1667.4 182.6 1666.5C186.7 1665.5 190.9 1665.2 195.1 1664C199.2 1662.7 203.4 1660.6 207.6 1659C211.7 1657.3 215.9 1655.6 220.1 1653.9C224.3 1652.3 228.4 1650.4 232.6 1648.9C236.8 1647.5 240.9 1647 245.1 1645.2C249.3 1643.4 253.4 1641.1 257.6 1638.2C261.8 1635.3 265.9 1631.5 270.1 1627.7C274.3 1623.8 278.5 1619.3 282.6 1615.2C286.8 1611 291 1606.3 295.1 1602.7C298.5 1599.8 301.8 1597 305.1 1595.2C308.5 1593.3 311.8 1592.7 315.1 1591.4C318.5 1590.2 321.8 1588.6 325.1 1587.7C329.3 1586.5 333.5 1586.2 337.7 1585.9C342.7 1585.6 347.7 1586.3 352.7 1586.4C356.8 1586.5 360.9 1586.4 365 1586.4C369.2 1586.4 373.3 1587.2 377.5 1586.4C381.7 1585.6 385.8 1583.5 390 1581.4C394.2 1579.3 398.4 1576.6 402.5 1573.9C406.7 1571.2 410.9 1568.3 415 1565.1C419.2 1562 423.4 1558.7 427.5 1555.1C431.7 1551.6 435.9 1547.8 440 1543.9C444.2 1539.9 448.4 1535.1 452.6 1531.4C456.7 1527.6 460.9 1523.7 465.1 1521.4C469.2 1519.1 473.4 1518.7 477.6 1517.6C481.7 1516.6 485.9 1516.3 490.1 1515.1C494.3 1513.9 498.4 1512.1 502.6 1510.6C506.8 1509.1 510.9 1507.4 515.1 1506.4C519.3 1505.4 523.4 1505.1 527.6 1504.6C531.8 1504.1 535.9 1504.2 540.1 1503.1C544.3 1502 548.5 1500.1 552.6 1498.1C556.8 1496.1 561 1493 565.1 1491.3C568.5 1490 571.8 1488.8 575.1 1488.3C578.5 1487.8 581.8 1487.8 585.1 1488.3C588.5 1488.8 591.8 1490.2 595.1 1491.3C598.5 1492.5 601.8 1494.1 605.2 1495.1C608.5 1496.1 611.8 1496.8 615.2 1497.6C618.5 1498.4 621.8 1498.8 625.2 1500.1C628.5 1501.4 631.8 1503 635.2 1505.1C638.5 1507.2 641.8 1509.9 645.2 1512.6C648.5 1515.3 651.9 1518.7 655.2 1521.4C658.5 1524.1 661.9 1526.2 665.2 1528.9C668.5 1531.6 671.9 1534.1 675.2 1537.6C678.5 1541.2 681.9 1545.1 685.2 1550.1C688.5 1555.1 691.9 1561.8 695.2 1567.6C698.5 1573.5 701.9 1579.5 705.2 1585.2C708.6 1590.8 711.9 1596 715.2 1601.4C718.6 1606.8 721.9 1612.5 725.2 1617.7C727.7 1621.6 730.2 1624.8 732.7 1628.9C734.2 1631.3 735.6 1633.9 737 1636.4L737 1706Z" fill="rgb(53,53,255)" fill-opacity="0.42" stroke="rgb(85,85,250)" stroke-opacity="0.55" stroke-width="1.9" stroke-linejoin="round"/>
<path d="M122.9 1706L122.9 1602.7C125.3 1601.8 127.6 1600.6 130 1600.2C132.5 1599.7 135 1599.7 137.5 1600.2C140 1600.6 142.5 1601.5 145 1602.7C148.4 1604.2 151.7 1606.4 155 1608.9C158.4 1611.4 161.7 1614.5 165 1617.7C168.4 1620.8 171.7 1624.6 175.1 1627.7C178.4 1630.8 181.7 1634 185.1 1636.4C188.4 1638.9 191.7 1640.9 195.1 1642.2C198.4 1643.4 201.7 1644.3 205.1 1643.9C208.4 1643.6 211.7 1641.9 215.1 1640.2C218.4 1638.5 221.7 1635.6 225.1 1633.9C228.4 1632.3 231.8 1631.6 235.1 1630.2C238.4 1628.7 241.8 1627.3 245.1 1625.2C248.4 1623.1 251.8 1620.6 255.1 1617.7C258.4 1614.8 261.8 1611.4 265.1 1607.7C268.4 1603.9 271.8 1598.9 275.1 1595.2C278.5 1591.4 281.8 1587.9 285.1 1585.2C288.5 1582.4 291.8 1580.4 295.1 1578.9C298.5 1577.4 301.8 1576.8 305.1 1576.4C308.5 1576 311.8 1577 315.1 1576.4C318.5 1575.8 321.8 1574.7 325.1 1572.6C328.5 1570.6 331.8 1566.8 335.2 1563.9C338.5 1561 341.8 1557.9 345.2 1555.1C349.3 1551.6 353.5 1548.6 357.7 1545.1C360.1 1543.1 362.6 1540.9 365 1538.9C369.2 1535.4 373.3 1532.4 377.5 1528.9C381.7 1525.3 385.8 1522 390 1517.6C394.2 1513.2 398.4 1507.4 402.5 1502.6C406.7 1497.8 410.9 1493.4 415 1488.8C419.2 1484.3 423.4 1479.5 427.5 1475.1C431.7 1470.7 435.9 1466.5 440 1462.6C443.4 1459.5 446.7 1456.1 450.1 1453.8C453.4 1451.5 456.7 1449.9 460.1 1448.8C463.4 1447.8 466.7 1447.4 470.1 1447.6C473.4 1447.7 476.7 1448.9 480.1 1449.6C483.4 1450.2 486.7 1450.9 490.1 1451.3C493.4 1451.7 496.8 1451.2 500.1 1452.1C502.6 1452.7 505.1 1453.5 507.6 1455.1C510.1 1456.6 512.6 1458.6 515.1 1461.3C517.6 1464 520.1 1467.6 522.6 1471.3C525.1 1475.1 527.6 1479.5 530.1 1483.8C532.6 1488.2 535.1 1492.8 537.6 1497.6C540.1 1502.4 542.6 1508 545.1 1512.6C547.6 1517.2 550.1 1520.9 552.6 1525.1C555.1 1529.3 557.6 1533.5 560.1 1537.6C562.6 1541.8 565.1 1545.8 567.6 1550.1C570.1 1554.5 572.6 1559.1 575.1 1563.9C577.6 1568.7 580.1 1574.1 582.6 1578.9C585.1 1583.7 587.6 1588.4 590.1 1592.7C593.5 1598.3 596.8 1603.1 600.2 1607.7C603.5 1612.3 606.8 1616 610.2 1620.2C613.5 1624.3 616.8 1628.7 620.2 1632.7C623.5 1636.6 626.8 1640.2 630.2 1643.9C633.5 1647.7 636.8 1651.4 640.2 1655.2C643.5 1659 646.8 1662.9 650.2 1666.5C653.5 1670 656.9 1673.5 660.2 1676.5C663.5 1679.4 666.9 1681.7 670.2 1684C673.5 1686.3 676.9 1688.3 680.2 1690.2C683.5 1692.1 686.9 1693.6 690.2 1695.2C693.5 1696.9 696.9 1698.8 700.2 1700.2C703.6 1701.7 706.9 1703 710.2 1704C713.6 1704.9 716.9 1705.5 720.2 1706C725.8 1706 731.4 1706 737 1706L737 1706Z" fill="rgb(93,143,136)" fill-opacity="0.42" stroke="rgb(110,152,146)" stroke-opacity="0.55" stroke-width="1.9" stroke-linejoin="round"/>
<path d="M122.9 1706L122.9 1505.1C125.3 1500.1 127.6 1495 130 1490.1C132.5 1485 135 1479.5 137.5 1475.1C140 1470.7 142.5 1467 145 1463.8C147.5 1460.7 150 1458 152.5 1456.3C155 1454.7 157.5 1454.3 160 1453.8C163.4 1453.2 166.7 1453.5 170 1453.8C173.4 1454.1 176.7 1455 180.1 1455.6C183.4 1456.1 186.7 1457.2 190.1 1457.1C193.4 1457 196.7 1456.5 200.1 1455.1C202.6 1454 205.1 1452.4 207.6 1450.6C210.1 1448.7 212.6 1445.5 215.1 1443.8C217.6 1442.1 220.1 1441 222.6 1440.6C225.1 1440.1 227.6 1440.4 230.1 1441.3C232.6 1442.3 235.1 1443.8 237.6 1446.3C240.1 1448.8 242.6 1452.5 245.1 1456.3C248.4 1461.4 251.8 1467.4 255.1 1473.8C258.4 1480.3 261.8 1488.2 265.1 1495.1C268.4 1502 271.8 1508.4 275.1 1515.1C278.5 1521.8 281.8 1528.7 285.1 1535.1C288.5 1541.6 291.8 1547.8 295.1 1553.9C298.5 1559.9 301.8 1565.1 305.1 1571.4C307.6 1576.1 310.1 1581 312.6 1586.4C315.1 1591.8 317.6 1598.5 320.1 1603.9C322.6 1609.3 325.1 1614.5 327.7 1618.9C330.2 1623.3 332.7 1627.1 335.2 1630.2C337.7 1633.3 340.2 1635.8 342.7 1637.7C345.2 1639.6 347.7 1640.6 350.2 1641.4C353.5 1642.6 356.8 1642.6 360.2 1642.7C361.8 1642.8 363.4 1642.8 365 1642.7C370 1642.4 375 1640.3 380 1638.9C384.2 1637.8 388.3 1637.5 392.5 1635.2C396.7 1632.9 400.9 1628.4 405 1625.2C410 1621.3 415 1617.7 420 1613.9C425 1610.2 430 1606 435 1602.7C440 1599.3 445.1 1596.4 450.1 1593.9C455.1 1591.4 460.1 1589.4 465.1 1587.7C470.1 1585.9 475.1 1584.3 480.1 1583.2C485.1 1582 490.1 1581.2 495.1 1580.7C499.3 1580.2 503.4 1579.4 507.6 1579.7C510.9 1579.9 514.3 1580.1 517.6 1581.4C520.9 1582.7 524.3 1584.9 527.6 1587.7C530.9 1590.4 534.3 1594.1 537.6 1597.7C540.9 1601.2 544.3 1605.2 547.6 1608.9C551 1612.7 554.3 1616.6 557.6 1620.2C561 1623.7 564.3 1627.1 567.6 1630.2C571 1633.3 574.3 1636 577.6 1638.9C581 1641.9 584.3 1644.8 587.6 1647.7C591 1650.6 594.3 1653.5 597.7 1656.5C601 1659.4 604.3 1662.5 607.7 1665.2C611 1667.9 614.3 1670.4 617.7 1672.7C621 1675 624.3 1677.1 627.7 1679C631 1680.8 634.3 1682.4 637.7 1684C641 1685.5 644.3 1687.2 647.7 1688.2C651 1689.3 654.4 1690 657.7 1690.2C661 1690.4 664.4 1690 667.7 1689.5C671.9 1688.9 676 1687.5 680.2 1686.5C685.2 1685.2 690.2 1683.8 695.2 1682.7C700.2 1681.6 705.2 1680.6 710.2 1679.7C715.2 1678.9 720.2 1678.2 725.2 1677.7C729.2 1677.3 733.1 1677.2 737 1677L737 1706Z" fill="rgb(181,119,91)" fill-opacity="0.42" stroke="rgb(176,148,110)" stroke-opacity="0.55" stroke-width="1.9" stroke-linejoin="round"/>
<rect class="ax" x="98.5" y="1351.1" width="647.5" height="363.85"/>
<path class="ax" d="M85.25 1362.35H98.5M85.25 1430.6H98.5M85.25 1498.1H98.5M85.25 1566H98.5M85.25 1633.9H98.5M85.25 1700.9H98.5M121.8 1714.95V1727.9M234.6 1714.95V1727.9M358.5 1714.95V1727.9M483.5 1714.95V1727.9M608.4 1714.95V1727.9M737.1 1714.95V1727.9"/>
<text transform="translate(75.1 1369.95) scale(1.01 1)" font-size="24.0" text-anchor="end">2.5</text>
<text transform="translate(75.1 1438.2) scale(1.01 1)" font-size="24.0" text-anchor="end">2.0</text>
<text transform="translate(75.1 1505.7) scale(0.8888 1)" font-size="24.0" text-anchor="end">1.5</text>
<text transform="translate(75.1 1573.6) scale(0.8888 1)" font-size="24.0" text-anchor="end">1.0</text>
<text transform="translate(75.1 1641.5) scale(1.01 1)" font-size="24.0" text-anchor="end">0.5</text>
<text transform="translate(75.1 1708.5) scale(1.01 1)" font-size="24.0" text-anchor="end">0</text>
<text transform="translate(121.8 1757.7) scale(1.01 1)" font-size="24.0" text-anchor="middle">0</text>
<text transform="translate(245.1 1757.7) scale(1.01 1)" font-size="24.0" text-anchor="middle">0.2</text>
<text transform="translate(368.2 1757.7) scale(1.01 1)" font-size="24.0" text-anchor="middle">0.4</text>
<text transform="translate(491.2 1757.7) scale(1.01 1)" font-size="24.0" text-anchor="middle">0.6</text>
<text transform="translate(614.3 1757.7) scale(1.01 1)" font-size="24.0" text-anchor="middle">0.8</text>
<text transform="translate(737.3 1757.7) scale(0.8888 1)" font-size="24.0" text-anchor="middle">1.0</text>
<text transform="translate(22.6 1533) rotate(-90) scale(1.04 1)" font-size="27.0" text-anchor="middle">Density</text>
<text transform="translate(419 1799) scale(1.04 1)" font-size="27.0" text-anchor="middle">SanQoL-5 index value</text>
<text transform="translate(0.8 1353.4) scale(1.0878 1)" font-size="37.0" text-anchor="start" font-weight="bold" stroke="#000" stroke-width="1.3" stroke-linejoin="round">e</text>
<rect x="141.4" y="1817.4" width="24" height="24" fill="rgb(255,155,60)" fill-opacity="0.42" stroke="rgb(255,170,85)" stroke-opacity="0.55" stroke-width="2"/>
<text transform="translate(177.7 1835.6) scale(1.05 1)" font-size="23.4" text-anchor="start">Flush or pour-flush toilet</text>
<rect x="486.3" y="1817.7" width="24" height="24" fill="rgb(53,53,255)" fill-opacity="0.42" stroke="rgb(85,85,250)" stroke-opacity="0.55" stroke-width="2"/>
<text transform="translate(522 1838.2) scale(1.05 1)" font-size="23.4" text-anchor="start">Pit latrine with</text>
<text transform="translate(522 1865.6) scale(1.05 1)" font-size="23.4" text-anchor="start">concrete slab</text>
<rect x="141.4" y="1891.8" width="24" height="24" fill="rgb(93,143,136)" fill-opacity="0.42" stroke="rgb(110,152,146)" stroke-opacity="0.55" stroke-width="2"/>
<text transform="translate(177.7 1910.9) scale(1.05 1)" font-size="23.4" text-anchor="start">Pit latrine with wood/</text>
<text transform="translate(177.7 1937.6) scale(1.05 1)" font-size="23.4" text-anchor="start">soil slab</text>
<rect x="486.3" y="1892" width="24" height="24" fill="rgb(181,119,91)" fill-opacity="0.42" stroke="rgb(176,148,110)" stroke-opacity="0.55" stroke-width="2"/>
<text transform="translate(522 1910.6) scale(1.05 1)" font-size="23.4" text-anchor="start">Open defecation</text>
</g>
<g id="panel-f">
<path d="M912.7 1703.9L912.7 1703.9C998.5 1703.9 1084.4 1703.9 1170.2 1703.9C1171.8 1703.9 1173.4 1703.9 1175 1703.9C1176.7 1703.7 1178.3 1703.8 1180 1703.2C1182.5 1702.3 1185 1700.5 1187.5 1697.7C1190 1694.9 1192.5 1690.6 1195 1686.5C1197.5 1682.3 1200 1677.5 1202.5 1672.7C1205 1667.9 1207.5 1662.5 1210 1657.7C1212.5 1652.9 1215 1648.3 1217.5 1643.9C1220 1639.6 1222.5 1635.4 1225 1631.4C1227.5 1627.5 1230 1623.5 1232.5 1620.2C1235 1616.8 1237.6 1614.1 1240.1 1611.4C1242.6 1608.7 1245.1 1606 1247.6 1603.9C1250.1 1601.8 1252.6 1600.1 1255.1 1598.9C1257.6 1597.7 1260.1 1597.1 1262.6 1596.9C1265.1 1596.7 1267.6 1596.9 1270.1 1597.7C1272.6 1598.4 1275.1 1599.7 1277.6 1601.4C1280.1 1603.1 1282.6 1605.2 1285.1 1607.7C1287.6 1610.2 1290.1 1613.1 1292.6 1616.4C1295.1 1619.8 1297.6 1623.9 1300.1 1627.7C1302.6 1631.4 1305.1 1635.4 1307.6 1638.9C1310.1 1642.5 1312.6 1646.2 1315.1 1648.9C1317.6 1651.7 1320.1 1653.7 1322.6 1655.2C1325.9 1657.1 1329.3 1657.7 1332.6 1657.7C1335.9 1657.7 1339.3 1657.1 1342.6 1655.2C1345.1 1653.7 1347.6 1651.9 1350.1 1648.9C1352.6 1646 1355.1 1641.6 1357.6 1637.7C1360.1 1633.7 1362.6 1629.1 1365.1 1625.2C1367.6 1621.2 1370.1 1617.3 1372.6 1613.9C1375.1 1610.6 1377.6 1607.5 1380.1 1605.2C1382.6 1602.9 1385.1 1601.4 1387.6 1600.2C1390.1 1598.9 1392.7 1598.2 1395.2 1597.7C1397.7 1597.2 1400.2 1597 1402.7 1597.2C1405.2 1597.4 1407.7 1597.8 1410.2 1598.9C1412.7 1600 1415.2 1601.8 1417.7 1603.9C1420.2 1606 1422.7 1608.5 1425.2 1611.4C1427.7 1614.3 1430.2 1618.3 1432.7 1621.4C1434.8 1624.1 1436.8 1627.5 1438.9 1628.9C1441 1630.4 1443.1 1631.2 1445.2 1630.2C1446.9 1629.4 1448.5 1627.7 1450.2 1625.2C1451.9 1622.7 1453.5 1618.9 1455.2 1615.2C1456.9 1611.4 1458.5 1607.3 1460.2 1602.7C1461.9 1598.1 1463.5 1592.7 1465.2 1587.7C1466.9 1582.7 1468.5 1578.5 1470.2 1572.6C1471.9 1566.8 1473.5 1559.3 1475.2 1552.6C1476.9 1546 1478.5 1539.3 1480.2 1532.6C1481.9 1526 1483.5 1519.5 1485.2 1512.6C1486.9 1505.7 1488.5 1498.4 1490.2 1491.3C1491.9 1484.3 1493.5 1477 1495.2 1470.1C1496.9 1463.2 1498.6 1456.3 1500.2 1450.1C1501.9 1443.8 1503.6 1438.4 1505.2 1432.6C1506.9 1426.7 1508.6 1420.3 1510.2 1415C1511.9 1409.8 1513.6 1405.2 1515.2 1401.3C1516.9 1397.3 1518.6 1394 1520.2 1391.3C1521.9 1388.6 1523.6 1386.6 1525.2 1385C1526.9 1383.5 1528.6 1382.5 1530.2 1382C1530.8 1381.9 1531.3 1381.9 1531.8 1381.8L1531.8 1703.9Z" fill="rgb(255,155,60)" fill-opacity="0.42" stroke="rgb(255,170,85)" stroke-opacity="0.55" stroke-width="1.9" stroke-linejoin="round"/>
<path d="M912.7 1703.9L912.7 1703.9C948.5 1703.9 984.3 1703.9 1020.1 1703.9C1025.1 1703.3 1030.1 1702.9 1035.1 1702.1C1040.1 1701.3 1045.1 1700.2 1050.1 1698.9C1055.1 1697.5 1060.1 1695.9 1065.1 1693.9C1070.1 1691.8 1075.1 1688.9 1080.1 1686.4C1085.1 1683.9 1090.1 1681.4 1095.1 1678.9C1100.1 1676.4 1105.1 1673.6 1110.1 1671.3C1115.1 1669.1 1120.1 1667.1 1125.1 1665.1C1129.3 1663.4 1133.5 1662.4 1137.7 1660.1C1141.8 1657.8 1146 1654.1 1150.2 1651.3C1153.4 1649.2 1156.7 1647.5 1160 1645.2C1164.2 1642.3 1168.3 1638.3 1172.5 1635.2C1176.7 1632.1 1180.8 1629.6 1185 1626.4C1189.2 1623.3 1193.4 1619.8 1197.5 1616.4C1201.7 1613.1 1205.9 1609.8 1210 1606.4C1214.2 1603.1 1218.4 1599.3 1222.5 1596.4C1226.7 1593.5 1230.9 1591 1235 1588.9C1239.2 1586.8 1243.4 1585.3 1247.6 1583.9C1250.9 1582.8 1254.2 1581.5 1257.6 1580.9C1260.9 1580.3 1264.2 1579.9 1267.6 1580.2C1270.9 1580.4 1274.2 1581.1 1277.6 1582.2C1280.9 1583.2 1284.2 1584.7 1287.6 1586.4C1290.9 1588.2 1294.3 1590.9 1297.6 1592.7C1300.9 1594.5 1304.3 1596.2 1307.6 1597.2C1310.9 1598.1 1314.3 1598.3 1317.6 1598.2C1320.9 1598 1324.3 1597.2 1327.6 1596.4C1330.9 1595.6 1334.3 1594.3 1337.6 1593.2C1341 1592 1344.3 1590.7 1347.6 1589.4C1351 1588.2 1354.3 1587 1357.6 1585.7C1361 1584.3 1364.3 1582.9 1367.6 1581.4C1371 1579.9 1374.3 1578.2 1377.6 1576.4C1381 1574.6 1384.3 1572.4 1387.6 1570.9C1391 1569.4 1394.3 1568.4 1397.7 1567.6C1401 1566.9 1404.3 1566.6 1407.7 1566.6C1411 1566.6 1414.3 1566.9 1417.7 1567.6C1421 1568.4 1424.3 1569.5 1427.7 1571.4C1431 1573.3 1434.3 1576.4 1437.7 1578.9C1440.2 1580.8 1442.7 1583.3 1445.2 1584.7C1447.7 1586 1450.2 1586.5 1452.7 1586.9C1456 1587.5 1459.4 1587.4 1462.7 1587.2C1466 1586.9 1469.4 1586.5 1472.7 1585.2C1476 1583.8 1479.4 1581.4 1482.7 1578.9C1486 1576.4 1489.4 1572.9 1492.7 1570.1C1496.1 1567.4 1499.4 1564.4 1502.7 1562.6C1506.1 1560.8 1509.4 1559.6 1512.7 1559.4C1516.1 1559.2 1519.4 1560 1522.7 1561.4C1525.8 1562.7 1528.8 1565.2 1531.8 1567.1L1531.8 1703.9Z" fill="rgb(53,53,255)" fill-opacity="0.42" stroke="rgb(85,85,250)" stroke-opacity="0.55" stroke-width="1.9" stroke-linejoin="round"/>
<path d="M912.7 1703.9L912.7 1693.1C919.3 1691.9 925.9 1690.7 932.5 1689.6C940.9 1688.2 949.2 1686.7 957.5 1685.9C965.9 1685 974.2 1684.8 982.6 1684.6C990.9 1684.4 999.2 1684.5 1007.6 1684.6C1015.9 1684.7 1024.3 1685 1032.6 1685.1C1040.9 1685.2 1049.3 1686 1057.6 1685.1C1061.8 1684.7 1065.9 1684.4 1070.1 1683.1C1074.3 1681.9 1078.5 1679.6 1082.6 1677.6C1086.8 1675.6 1091 1673.5 1095.1 1671.3C1099.3 1669.2 1103.5 1666.7 1107.6 1664.6C1111.8 1662.5 1116 1660.9 1120.1 1658.8C1124.3 1656.8 1128.5 1654.6 1132.7 1652.1C1136.8 1649.6 1141 1646.3 1145.2 1643.8C1150.1 1640.9 1155.1 1639.2 1160 1636.4C1164.2 1634.1 1168.3 1631 1172.5 1628.9C1176.7 1626.8 1180.8 1625.8 1185 1623.9C1189.2 1622.1 1193.4 1620.4 1197.5 1617.7C1201.7 1615 1205.9 1610.8 1210 1607.7C1214.2 1604.5 1218.4 1601.6 1222.5 1598.9C1226.7 1596.2 1230.9 1593.7 1235 1591.4C1239.2 1589.1 1243.4 1587.2 1247.6 1585.2C1250.9 1583.5 1254.2 1582.5 1257.6 1580.2C1260.1 1578.4 1262.6 1575.6 1265.1 1573.9C1268.4 1571.6 1271.7 1570.1 1275.1 1568.9C1278.4 1567.7 1281.7 1567.3 1285.1 1566.9C1288.4 1566.5 1291.8 1566.6 1295.1 1566.6C1298.4 1566.7 1301.8 1566.9 1305.1 1567.1C1308.4 1567.4 1311.8 1567.6 1315.1 1568.1C1318.4 1568.6 1321.8 1569.4 1325.1 1570.1C1328.4 1570.9 1331.8 1571.7 1335.1 1572.6C1338.4 1573.6 1341.8 1574.5 1345.1 1575.6C1348.5 1576.8 1351.8 1578.2 1355.1 1579.4C1358.5 1580.7 1361.8 1582.1 1365.1 1583.2C1368.5 1584.2 1371.8 1585 1375.1 1585.7C1378.5 1586.3 1381.8 1586.6 1385.1 1586.9C1389.3 1587.2 1393.5 1587.2 1397.7 1587.2C1401.8 1587.2 1406 1587 1410.2 1586.9C1414.3 1586.8 1418.5 1586.7 1422.7 1586.4C1426 1586.2 1429.3 1585.6 1432.7 1585.7C1436 1585.7 1439.3 1586.4 1442.7 1586.9C1446 1587.4 1449.4 1588.4 1452.7 1588.9C1456 1589.4 1459.4 1589.8 1462.7 1590.2C1466 1590.5 1469.4 1590.7 1472.7 1590.9C1476.9 1591.2 1481 1591.5 1485.2 1591.9C1488.5 1592.3 1491.9 1592.4 1495.2 1593.2C1498.6 1593.9 1501.9 1594.8 1505.2 1596.4C1508.6 1598 1511.9 1600.3 1515.2 1602.7C1518.6 1605 1521.9 1607.6 1525.2 1610.7C1527.4 1612.7 1529.6 1615 1531.8 1617.2L1531.8 1703.9Z" fill="rgb(93,143,136)" fill-opacity="0.42" stroke="rgb(110,152,146)" stroke-opacity="0.55" stroke-width="1.9" stroke-linejoin="round"/>
<path d="M912.7 1703.9L912.7 1614.6C915.1 1612.2 917.6 1609.4 920 1607.6C923.4 1605 926.7 1603.7 930 1602.6C934.2 1601.1 938.4 1601.2 942.5 1600.6C946.7 1599.9 950.9 1599.8 955 1598.8C960 1597.7 965 1595.5 970 1593.8C975.1 1592.1 980.1 1590.5 985.1 1588.8C989.2 1587.4 993.4 1585.9 997.6 1584.5C1000.9 1583.4 1004.2 1581.9 1007.6 1581.3C1010.1 1580.8 1012.6 1580.6 1015.1 1580.8C1017.6 1581 1020.1 1581.5 1022.6 1582.5C1025.9 1583.9 1029.3 1586.3 1032.6 1588.8C1036.8 1591.9 1040.9 1595.7 1045.1 1600.1C1049.3 1604.4 1053.4 1610.3 1057.6 1615.1C1061.8 1619.9 1065.9 1624.7 1070.1 1628.8C1074.3 1632.9 1078.5 1636.4 1082.6 1639.6C1086.8 1642.8 1091 1645.7 1095.1 1648.1C1099.3 1650.5 1103.5 1652.5 1107.6 1653.8C1111 1654.9 1114.3 1655.6 1117.6 1655.8C1120.1 1656 1122.6 1656.3 1125.1 1655.6C1127.7 1654.8 1130.2 1653.3 1132.7 1651.3C1135.2 1649.4 1137.7 1646.7 1140.2 1643.8C1142.7 1640.9 1145.2 1637 1147.7 1633.8C1151.8 1628.5 1155.9 1624.3 1160 1618.9C1163.3 1614.6 1166.7 1609.3 1170 1605.2C1173.3 1601 1176.7 1597.2 1180 1593.9C1183.3 1590.6 1186.7 1587.7 1190 1585.2C1193.4 1582.7 1196.7 1580.6 1200 1578.9C1203.4 1577.2 1206.7 1576 1210 1575.1C1213.4 1574.3 1216.7 1574 1220 1573.9C1223.4 1573.8 1226.7 1574 1230 1574.6C1233.4 1575.3 1236.7 1576.3 1240.1 1577.7C1243.4 1579 1246.7 1580.4 1250.1 1582.7C1253.4 1584.9 1256.7 1588.1 1260.1 1591.4C1263.4 1594.7 1266.7 1598.5 1270.1 1602.7C1273.4 1606.8 1276.7 1612 1280.1 1616.4C1283.4 1620.8 1286.7 1625 1290.1 1628.9C1293.4 1632.9 1296.8 1636.6 1300.1 1640.2C1303.4 1643.7 1306.8 1647.3 1310.1 1650.2C1313.4 1653.1 1316.8 1655.6 1320.1 1657.7C1323.4 1659.8 1326.8 1661.2 1330.1 1662.7C1333.4 1664.2 1336.8 1665.5 1340.1 1666.5C1343.5 1667.4 1346.8 1667.8 1350.1 1668.2C1353.5 1668.6 1356.8 1669 1360.1 1669C1363.5 1668.9 1366.8 1668.8 1370.1 1667.7C1373.5 1666.7 1376.8 1664.6 1380.1 1662.7C1383.5 1660.8 1386.8 1658.5 1390.1 1656.5C1393.5 1654.4 1396.8 1652.1 1400.2 1650.2C1403.5 1648.3 1406.8 1646.5 1410.2 1645.2C1413.5 1643.9 1416.8 1642.9 1420.2 1642.2C1423.5 1641.4 1426.8 1640.9 1430.2 1640.7C1433.5 1640.5 1436.8 1640.5 1440.2 1640.9C1443.5 1641.4 1446.9 1642.2 1450.2 1643.2C1453.5 1644.2 1456.9 1645.6 1460.2 1647.2C1463.5 1648.8 1466.9 1650.7 1470.2 1652.7C1473.5 1654.7 1476.9 1656.9 1480.2 1659C1483.5 1661 1486.9 1663.1 1490.2 1665.2C1493.5 1667.3 1496.9 1669.6 1500.2 1671.5C1503.6 1673.3 1506.9 1674.8 1510.2 1676.5C1513.6 1678.1 1516.9 1679.9 1520.2 1681.5C1524.1 1683.3 1527.9 1684.8 1531.8 1686.5L1531.8 1703.9Z" fill="rgb(181,119,91)" fill-opacity="0.42" stroke="rgb(176,148,110)" stroke-opacity="0.55" stroke-width="1.9" stroke-linejoin="round"/>
<rect class="ax" x="899.6" y="1351" width="644.4" height="362.5"/>
<path class="ax" d="M886.8 1360.85H899.6M886.8 1447.1H899.6M886.8 1531H899.6M886.8 1617H899.6M886.8 1701.1H899.6M913 1713.5V1726.9M1037.5 1713.5V1726.9M1161.3 1713.5V1726.9M1286 1713.5V1726.9M1410.9 1713.5V1726.9M1533.4 1713.5V1726.9"/>
<text transform="translate(875.8 1368.45) scale(1.01 1)" font-size="24.0" text-anchor="end">4</text>
<text transform="translate(875.8 1454.7) scale(1.01 1)" font-size="24.0" text-anchor="end">3</text>
<text transform="translate(875.8 1538.6) scale(1.01 1)" font-size="24.0" text-anchor="end">2</text>
<text transform="translate(875.8 1624.6) scale(0.8888 1)" font-size="24.0" text-anchor="end">1</text>
<text transform="translate(875.8 1708.7) scale(1.01 1)" font-size="24.0" text-anchor="end">0</text>
<text transform="translate(912.9 1755.3) scale(1.01 1)" font-size="24.0" text-anchor="middle">0</text>
<text transform="translate(1037.1 1755.3) scale(1.01 1)" font-size="24.0" text-anchor="middle">0.2</text>
<text transform="translate(1161 1755.3) scale(1.01 1)" font-size="24.0" text-anchor="middle">0.4</text>
<text transform="translate(1285.2 1755.3) scale(1.01 1)" font-size="24.0" text-anchor="middle">0.6</text>
<text transform="translate(1409.5 1755.3) scale(1.01 1)" font-size="24.0" text-anchor="middle">0.8</text>
<text transform="translate(1533 1755.3) scale(0.8888 1)" font-size="24.0" text-anchor="middle">1.0</text>
<text transform="translate(838 1532) rotate(-90) scale(1.04 1)" font-size="27.0" text-anchor="middle">Density</text>
<text transform="translate(1222.3 1797.7) scale(1.04 1)" font-size="27.0" text-anchor="middle">SanQoL-5 index value</text>
<text transform="translate(814.9 1352.3) scale(1.0878 1)" font-size="37.0" text-anchor="start" font-weight="bold" stroke="#000" stroke-width="1.3" stroke-linejoin="round">f</text>
<rect x="936" y="1821" width="24" height="24" fill="rgb(255,155,60)" fill-opacity="0.42" stroke="rgb(255,170,85)" stroke-opacity="0.55" stroke-width="2"/>
<text transform="translate(971.7 1839.8) scale(1.05 1)" font-size="23.4" text-anchor="start">Flush or pour-flush toilet</text>
<rect x="1269.9" y="1821" width="24" height="24" fill="rgb(53,53,255)" fill-opacity="0.42" stroke="rgb(85,85,250)" stroke-opacity="0.55" stroke-width="2"/>
<text transform="translate(1327 1840.8) scale(1.05 1)" font-size="23.4" text-anchor="start">Pit latrine with</text>
<text transform="translate(1327 1867.5) scale(1.05 1)" font-size="23.4" text-anchor="start">concrete slab</text>
<rect x="936" y="1888" width="24" height="24" fill="rgb(93,143,136)" fill-opacity="0.42" stroke="rgb(110,152,146)" stroke-opacity="0.55" stroke-width="2"/>
<text transform="translate(973.7 1907.2) scale(1.05 1)" font-size="23.4" text-anchor="start">Pit latrine with wood/</text>
<text transform="translate(973.7 1933.9) scale(1.05 1)" font-size="23.4" text-anchor="start">soil slab</text>
<rect x="1269.9" y="1888" width="24" height="24" fill="rgb(181,119,91)" fill-opacity="0.42" stroke="rgb(176,148,110)" stroke-opacity="0.55" stroke-width="2"/>
<text transform="translate(1327 1906.6) scale(1.05 1)" font-size="23.4" text-anchor="start">Open defecation</text>
</g>
</svg></body></html>
